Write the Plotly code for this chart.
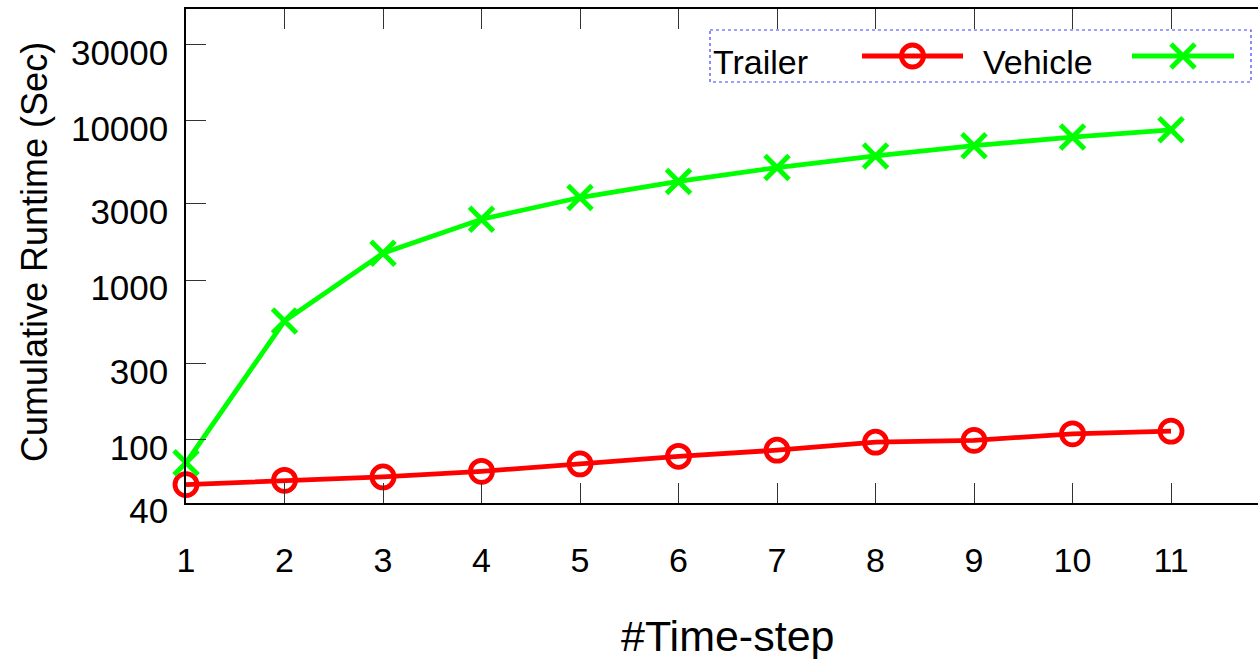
import plotly.graph_objects as go

# Cumulative runtime per time-step (seconds)
steps = [1, 2, 3, 4, 5, 6, 7, 8, 9, 10, 11]
trailer = [52.2, 55.5, 58.3, 63.2, 70.3, 78.5, 85.7, 96.2, 98.8, 108.6, 112.8]
vehicle = [71.5, 553, 1472, 2404, 3290, 4150, 5070, 5995, 6955, 7875, 8745]

y_ticks = [40, 100, 300, 1000, 3000, 10000, 30000]
y_ticktext = ["40", "100", "300", "1000", "3000", "10000", "30000"]
series_names = ["Trailer", "Vehicle"]

RED = "#ff0000"
GREEN = "#00ff00"
FONT = "Liberation Sans, Arial, Helvetica, sans-serif"

W, H = 1258, 659
L, T, B = 186, 9, 156
x_range = [1, 11.883]
y_range = [1.60206, 4.69897]  # log10(40) .. log10(50000)

fig = go.Figure()

fig.add_trace(go.Scatter(
    x=steps, y=trailer, name=series_names[0], mode="lines+markers",
    line=dict(color=RED, width=4.8),
    marker=dict(symbol="circle-open", size=22, color=RED, line=dict(width=4.8, color=RED)),
    cliponaxis=False, showlegend=False,
))
fig.add_trace(go.Scatter(
    x=steps, y=vehicle, name=series_names[1], mode="lines+markers",
    line=dict(color=GREEN, width=4.8),
    marker=dict(symbol="x-thin-open", size=24, color=GREEN, line=dict(width=5, color=GREEN)),
    cliponaxis=False, showlegend=False,
))

# Key samples, drawn on a pixel-unit overlay of the plot area
key_y = 56
key_specs = [
    (series_names[0], 711, (862, 963), RED, "circle-open", 22, 4.8),
    (series_names[1], 981, (1132, 1234), GREEN, "x-thin-open", 24, 5),
]
annotations = []
for name, tx, (sx0, sx1), col, sym, sz, lw in key_specs:
    fig.add_trace(go.Scatter(
        x=[sx0, sx1], y=[key_y, key_y], mode="lines", xaxis="x2", yaxis="y3",
        line=dict(color=col, width=4.8), showlegend=False, hoverinfo="skip",
        cliponaxis=False,
    ))
    fig.add_trace(go.Scatter(
        x=[(sx0 + sx1) / 2], y=[key_y], mode="markers", xaxis="x2", yaxis="y3",
        marker=dict(symbol=sym, size=sz, color=col, line=dict(width=lw, color=col)),
        showlegend=False, hoverinfo="skip", cliponaxis=False,
    ))
    annotations.append(dict(
        x=tx, y=62, xref="x2", yref="y3", text=name, showarrow=False,
        xanchor="left", yanchor="middle", font=dict(size=34, color="black", family=FONT),
    ))

# Axis titles
annotations.append(dict(
    x=6.5, y=(H - 636 - B) / (H - T - B), xref="x", yref="paper", text="#Time-step",
    showarrow=False, xanchor="center", yanchor="middle",
    font=dict(size=43, color="black", family=FONT),
))
annotations.append(dict(
    x=(34 - L) / (W - L), y=(H - B - 252) / (H - T - B), xref="paper", yref="paper",
    text="Cumulative Runtime (Sec)", textangle=-90, showarrow=False,
    xanchor="center", yanchor="middle", font=dict(size=36, color="black", family=FONT),
))

fig.update_layout(
    width=W, height=H,
    margin=dict(l=L, r=0, t=T, b=B, pad=0),
    paper_bgcolor="white", plot_bgcolor="white",
    font=dict(family=FONT, color="black"),
    showlegend=False,
    xaxis=dict(
        range=x_range, tickvals=steps, ticktext=[str(s) for s in steps],
        ticks="inside", ticklen=20, tickwidth=1.2, tickcolor="#333",
        showline=True, linecolor="black", linewidth=1.5, mirror="ticks",
        showgrid=False, zeroline=False,
        tickfont=dict(size=34, family=FONT, color="black"),
        ticklabelstandoff=26,
    ),
    yaxis=dict(
        type="log", range=y_range, tickvals=y_ticks, ticktext=y_ticktext,
        ticks="inside", ticklen=20, tickwidth=1.2, tickcolor="#333",
        showline=True, linecolor="black", linewidth=1.5, mirror=False,
        showgrid=False, zeroline=False,
        tickfont=dict(size=35, family=FONT, color="black"),
        ticklabelstandoff=9, ticklabelshift=8,
    ),
    yaxis2=dict(
        type="log", range=y_range, tickvals=y_ticks, overlaying="y", side="right",
        anchor="x", ticks="inside", ticklen=8, tickwidth=1.2, tickcolor="#333",
        showticklabels=False, showline=False, showgrid=False, zeroline=False,
    ),
    xaxis2=dict(range=[L, W], overlaying="x", anchor="y3", visible=False),
    yaxis3=dict(range=[H - B, T], overlaying="y", anchor="x2", visible=False),
    annotations=annotations,
    shapes=[dict(
        type="rect", xref="x2", yref="y3", x0=710, x1=1251, y0=30, y1=82,
        line=dict(color="#4040ff", width=1.2, dash="dot"), fillcolor="rgba(0,0,0,0)",
    )],
)

fig.write_html("out.html")
